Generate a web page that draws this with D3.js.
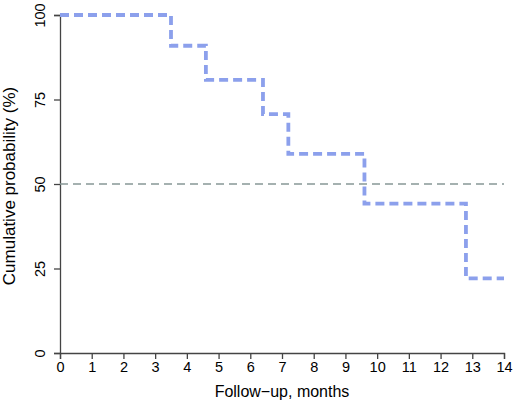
<!DOCTYPE html>
<html>
<head>
<meta charset="utf-8">
<script src="https://cdn.jsdelivr.net/npm/d3@7"></script>
<style>
  body { margin: 0; background: #fff; }
  text { font-family: "Liberation Sans", Arial, sans-serif; fill: #000; }
</style>
</head>
<body>
<div id="chart"></div>
<script>
// Kaplan-Meier step points (month, cumulative probability %)
const stepMonths = [0, 3.5, 4.6, 6.4, 7.2, 9.6, 12.8, 14];
const stepProbs = [100, 90.9, 80.8, 70.7, 58.9, 44.2, 22.1, 22.1];
const xTicks = [0, 1, 2, 3, 4, 5, 6, 7, 8, 9, 10, 11, 12, 13, 14];
const yTicks = [0, 25, 50, 75, 100];
const medianLine = 50;

const width = 520, height = 406;
const margin = { top: 15, right: 16, bottom: 53, left: 60 };

const svg = d3.select("#chart")
  .append("svg")
  .attr("width", width)
  .attr("height", height);

const x = d3.scaleLinear().domain([0, 14]).range([margin.left, width - margin.right]);
const y = d3.scaleLinear().domain([0, 100]).range([height - margin.bottom, margin.top]);

// axes (R style)
const xAxis = svg.append("g")
  .attr("transform", `translate(0,${y(0)})`)
  .call(d3.axisBottom(x).tickValues(xTicks).tickSize(6).tickPadding(3).tickFormat(d3.format("d")));
xAxis.select(".domain").attr("stroke", "#444").attr("stroke-width", 1.3);
xAxis.selectAll(".tick line").attr("stroke", "#444").attr("stroke-width", 1.3);
xAxis.selectAll("text").style("font-size", "14.5px").attr("fill", "#000");

const yAxis = svg.append("g")
  .attr("transform", `translate(${x(0)},0)`)
  .call(d3.axisLeft(y).tickValues(yTicks).tickSize(6).tickFormat(d3.format("d")));
yAxis.select(".domain").attr("stroke", "#444").attr("stroke-width", 1.3);
yAxis.selectAll(".tick line").attr("stroke", "#444").attr("stroke-width", 1.3);
yAxis.selectAll("text")
  .style("font-size", "14.5px")
  .attr("fill", "#000")
  .attr("x", null)
  .attr("dy", null)
  .attr("text-anchor", "middle")
  .attr("transform", "translate(-15,0) rotate(-90)");

// 50% reference line
svg.append("line")
  .attr("x1", x(0))
  .attr("x2", x(14))
  .attr("y1", y(medianLine))
  .attr("y2", y(medianLine))
  .attr("stroke", "#889896")
  .attr("stroke-width", 1.3)
  .attr("stroke-dasharray", "8,5");

// survival curve
const data = stepMonths.map((m, i) => ({ m, p: stepProbs[i] }));
const line = d3.line()
  .x(d => x(d.m))
  .y(d => y(d.p))
  .curve(d3.curveStepAfter);

svg.append("path")
  .datum(data)
  .attr("d", line)
  .attr("fill", "none")
  .attr("stroke", "#8ca0ec")
  .attr("stroke-width", 3.8)
  .attr("stroke-dasharray", "9,5");

// labels
svg.append("text")
  .attr("x", (x(0) + x(14)) / 2)
  .attr("y", 397)
  .attr("text-anchor", "middle")
  .style("font-size", "16px")
  .text("Follow\u2212up, months");

svg.append("text")
  .attr("transform", `translate(15,${y(50) + 2}) rotate(-90)`)
  .attr("text-anchor", "middle")
  .style("font-size", "17px")
  .text("Cumulative probability (%)");
</script>
</body>
</html>
